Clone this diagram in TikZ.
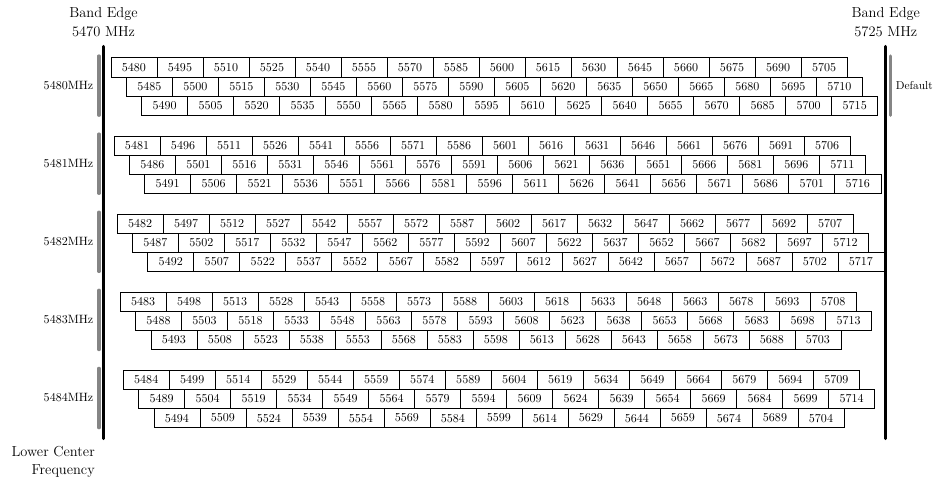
\documentclass[tikz,border=0pt]{standalone}
\usepackage{tikz}
\tikzset{
  chan/.style={draw=black, line width=0.5pt, fill=white, inner sep=0pt, outer sep=0pt,
    minimum width=38.2pt, minimum height=15.94pt, font=\fontsize{10}{12}\selectfont},
  edgeline/.style={line width=2.6pt, line cap=round, black},
  grpbar/.style={line width=2.6pt, line cap=round, black!48},
  biglabel/.style={inner sep=0pt, font=\fontsize{12}{14}\selectfont},
  grplabel/.style={inner sep=0pt, font=\fontsize{10}{12}\selectfont}
}
\begin{document}
\begin{tikzpicture}[x=0.83pt, y=-0.83pt]
\useasboundingbox (0,0) rectangle (935,479);
% band edge lines
\coordinate (lt) at (103.3,46.5);
\coordinate (lb) at (103.3,438.5);
\coordinate (rt) at (885.7,46.5);
\coordinate (rb) at (885.7,438.5);
\draw[edgeline] (lt) -- (lb);
\draw[edgeline] (rt) -- (rb);
% labels
\node[biglabel, anchor=base] (le1) at (103.5,17.3) {Band Edge};
\node[biglabel, anchor=base] (le2) at (103.5,36) {5470 MHz};
\node[biglabel, anchor=base] (re1) at (885.8,17.3) {Band Edge};
\node[biglabel, anchor=base] (re2) at (885.8,36) {5725 MHz};
\node[biglabel, anchor=base east] (lc1) at (95,456.7) {Lower Center};
\node[biglabel, anchor=base east] (lc2) at (95,474) {Frequency};
% default bar
\coordinate (dt) at (890.3,56);
\coordinate (db) at (890.3,115.3);
\draw[grpbar] (dt) -- (db);
\node[grplabel, anchor=base west, font=\fontsize{9.5}{11}\selectfont] (def) at (895.5,89.3) {Default};
% groups
\foreach \g in {0,...,4}{
  \pgfmathsetmacro\gtop{57.7+78.1*\g}
  \pgfmathtruncatemacro\glab{5480+\g}
  \coordinate (gt\g) at (99,\gtop-1.8);
  \coordinate (gb\g) at (99,\gtop+57.6);
  \draw[grpbar] (gt\g) -- (gb\g);
  \node[grplabel, anchor=base east] (gl\g) at (93.5,\gtop+31.6) {\glab MHz};
  \foreach \r in {0,1,2}{
    \pgfmathtruncatemacro\fstart{5480+\g+5*\r}
    \foreach \k in {0,...,15}{
      \pgfmathtruncatemacro\f{\fstart+15*\k}
      \ifnum\f<5718
        \node[chan] (f\f) at ({103.3+(\f-5470)*3.067},{\gtop+19.2*\r+9.6}) {\f};
      \fi
    }
  }
}
\end{tikzpicture}
\end{document}
